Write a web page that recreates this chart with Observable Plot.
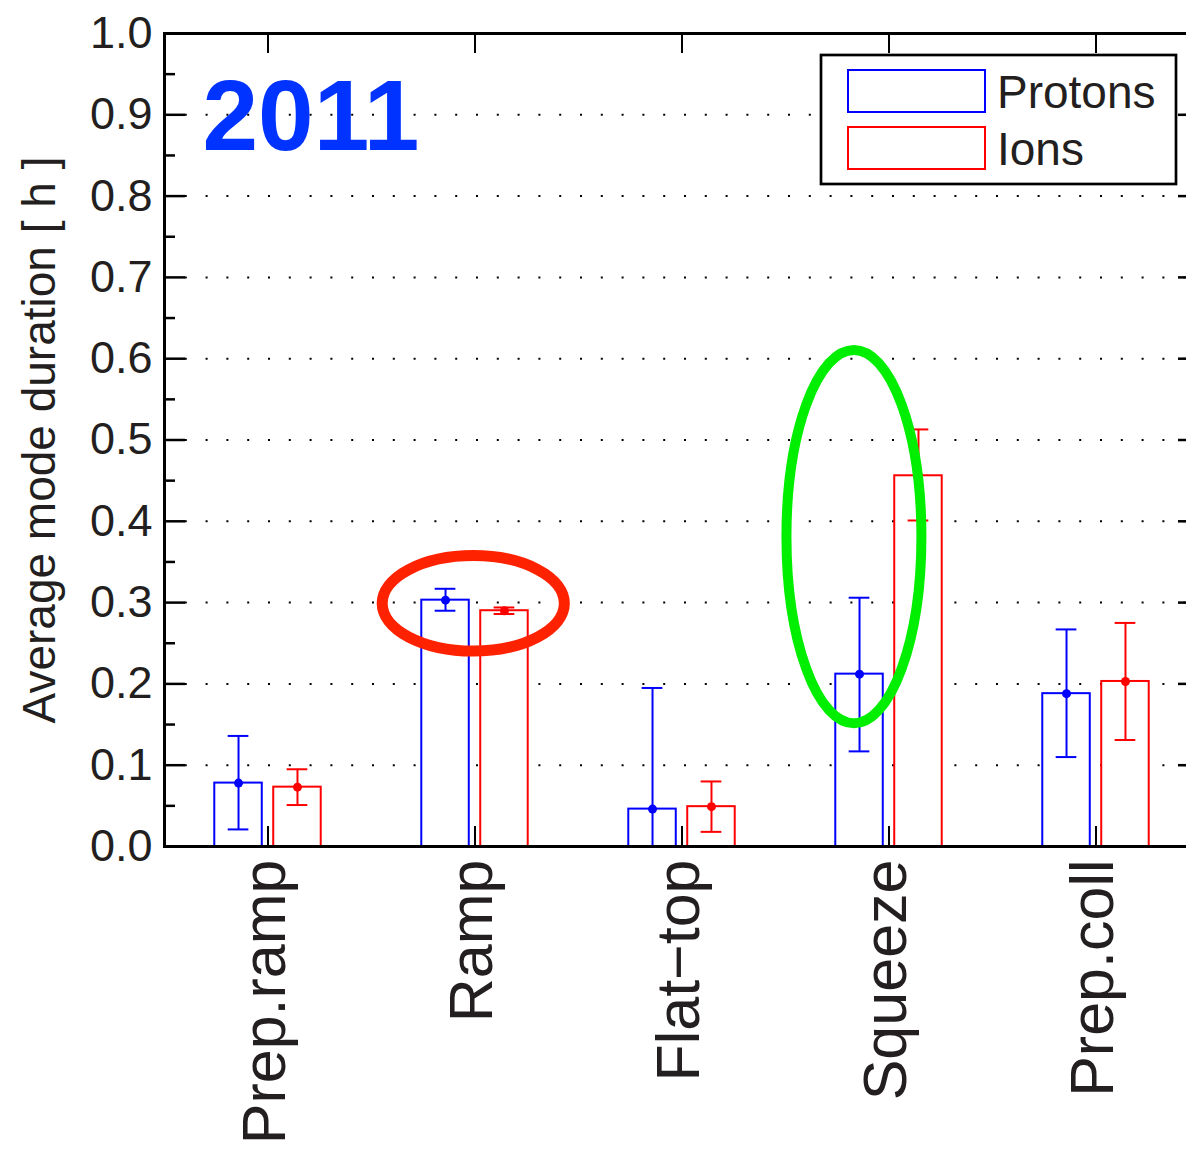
<!DOCTYPE html>
<html><head><meta charset="utf-8">
<script src="https://cdn.jsdelivr.net/npm/d3@7"></script>
<script src="https://cdn.jsdelivr.net/npm/@observablehq/plot@0.6"></script>
<style>
html,body{margin:0;padding:0;overflow:hidden;background:#fff;}
#chart{position:relative;width:1199px;height:1153px;overflow:hidden;}
</style></head><body><div id="chart"></div>
<script>
// ---- data ----
const categories = ["Prep.ramp", "Ramp", "Flat\u2212top", "Squeeze", "Prep.coll"];
const seriesNames = ["Protons", "Ions"];
const protonMean = [0.078, 0.303, 0.046, 0.212, 0.188];
const protonLow  = [0.021, 0.290, -0.103, 0.117, 0.110];
const protonHigh = [0.136, 0.317, 0.195, 0.306, 0.267];
const ionMean = [0.073, 0.290, 0.049, 0.456, 0.203];
const ionLow  = [0.051, 0.286, 0.018, 0.401, 0.131];
const ionHigh = [0.095, 0.294, 0.080, 0.513, 0.275];
const yTicks = [0, 0.1, 0.2, 0.3, 0.4, 0.5, 0.6, 0.7, 0.8, 0.9, 1.0];
const yMinorTicks = [0.05, 0.15, 0.25, 0.35, 0.45, 0.55, 0.65, 0.75, 0.85, 0.95];
const titleText = ["2011"];
const yLabel = ["Average mode duration [ h ]"];
// highlight ellipses (data units: x = category position, y = hours)
const ellipseCx = [1.994, 3.833];
const ellipseCy = [0.2985, 0.3805];
const ellipseRx = [0.44, 0.326];
const ellipseRy = [0.0588, 0.2296];

// ---- layout constants ----
const colors = ["#0000ff", "#ff0000"];
const ellipseColors = ["#ff2200", "#00ee00"];
const ellipseWidths = [11, 10];
const offset = {Protons: -0.1424, Ions: 0.1424};
const halfW = 0.1147, capHalf = 0.05;
const font = "'Liberation Sans', Arial, Helvetica, sans-serif";
const textColor = "#231f20";

const rows = [];
categories.forEach((c, i) => {
  rows.push({cat: c, pos: i + 1, series: "Protons", mean: protonMean[i], low: protonLow[i], high: protonHigh[i]});
  rows.push({cat: c, pos: i + 1, series: "Ions", mean: ionMean[i], low: ionLow[i], high: ionHigh[i]});
});
const cx = d => d.pos + offset[d.series];
const positions = categories.map((c, i) => i + 1);

const plot = Plot.plot({
  width: 1199, height: 1153,
  marginLeft: 164, marginRight: 0, marginTop: 33, marginBottom: 307,
  style: {fontFamily: font, maxWidth: "none", background: "white", overflow: "visible"},
  x: {domain: [0.5, 5.5], axis: null},
  y: {domain: [0, 1]},
  color: {domain: seriesNames, range: colors},
  marks: [
    // dotted grid
    Plot.ruleY(yTicks.slice(1, 10), {y: d => d, stroke: "#000", strokeWidth: 2, strokeDasharray: "2,18.8"}),
    // bars
    Plot.rectY(rows, {x1: d => cx(d) - halfW, x2: d => cx(d) + halfW, y1: () => 0, y2: "mean",
      fill: "white", stroke: "series", strokeWidth: 2}),
    // error bars
    Plot.ruleX(rows, {x: cx, y1: "low", y2: "high", stroke: "series", strokeWidth: 2, clip: true}),
    Plot.ruleY(rows, {y: "high", x1: d => cx(d) - capHalf, x2: d => cx(d) + capHalf, stroke: "series", strokeWidth: 2, clip: true}),
    Plot.ruleY(rows, {y: "low", x1: d => cx(d) - capHalf, x2: d => cx(d) + capHalf, stroke: "series", strokeWidth: 2, clip: true}),
    Plot.dot(rows, {x: cx, y: "mean", r: 4.5, fill: "series", stroke: null}),
    // frame
    Plot.frame({stroke: "#000", strokeWidth: 3}),
    // inward y ticks (left and right)
    Plot.ruleY(yTicks, {y: d => d, x1: () => 0.5, x2: () => 0.5, insetRight: -21, stroke: "#000", strokeWidth: 2.5}),
    Plot.ruleY(yMinorTicks, {y: d => d, x1: () => 0.5, x2: () => 0.5, insetRight: -11, stroke: "#000", strokeWidth: 2.5}),
    Plot.ruleY(yTicks, {y: d => d, x1: () => 5.5, x2: () => 5.5, insetLeft: -21, stroke: "#000", strokeWidth: 2.5}),
    Plot.ruleY(yMinorTicks, {y: d => d, x1: () => 5.5, x2: () => 5.5, insetLeft: -11, stroke: "#000", strokeWidth: 2.5}),
    // inward x ticks (bottom and top)
    Plot.ruleX(positions, {x: d => d, y1: () => 0, y2: () => 0, insetTop: -20, stroke: "#000", strokeWidth: 2}),
    Plot.ruleX(positions, {x: d => d, y1: () => 1, y2: () => 1, insetBottom: -20, stroke: "#000", strokeWidth: 2}),
    // y tick labels
    Plot.axisY(yTicks, {tickSize: 0, tickPadding: 12, tickFormat: d3.format(".1f"), fontSize: 45, color: textColor, label: null}),
    // x tick labels (rotated)
    Plot.text(categories, {x: (d, i) => i + 1, y: () => 0, text: d => d, rotate: -90, textAnchor: "end",
      lineAnchor: "middle", fontSize: 61, dx: -3, dy: 13, fill: textColor}),
    // y axis label
    Plot.text(yLabel, {frameAnchor: "left", text: d => d, rotate: -90, textAnchor: "middle", lineAnchor: "middle",
      dx: -124, fontSize: 46, fill: textColor}),
    // year title
    Plot.text(titleText, {frameAnchor: "top-left", text: d => d, textAnchor: "start", lineAnchor: "top",
      dx: 38, dy: 45, fontSize: 100, fontWeight: "bold", fill: "#0033ff"})
  ]
});

document.getElementById("chart").appendChild(plot);

// legend (pixel layout)
const svg = d3.select(plot);
const lg = svg.append("g").attr("text-anchor", "start");
lg.append("rect").attr("x", 821).attr("y", 55).attr("width", 355).attr("height", 129)
  .attr("fill", "white").attr("stroke", "#000").attr("stroke-width", 2.7);
seriesNames.forEach((s, i) => {
  const y0 = 70 + i * 57;
  lg.append("rect").attr("x", 848).attr("y", y0).attr("width", 137).attr("height", 42)
    .attr("fill", "none").attr("stroke", colors[i]).attr("stroke-width", 2);
  lg.append("text").attr("x", 997).attr("y", y0 + 38).attr("font-size", 46)
    .attr("text-anchor", "start")
    .attr("font-family", font).attr("fill", textColor).text(s);
});

// highlight ellipses, placed through the plot's own scales
const xs = plot.scale("x"), ys = plot.scale("y");
const xf = d3.scaleLinear(xs.domain, xs.range), yf = d3.scaleLinear(ys.domain, ys.range);
ellipseCx.forEach((c, i) => {
  svg.append("ellipse")
    .attr("cx", xf(c)).attr("cy", yf(ellipseCy[i]))
    .attr("rx", Math.abs(xf(c + ellipseRx[i]) - xf(c)))
    .attr("ry", Math.abs(yf(ellipseCy[i] + ellipseRy[i]) - yf(ellipseCy[i])))
    .attr("fill", "none").attr("stroke", ellipseColors[i]).attr("stroke-width", ellipseWidths[i]);
});
</script></body></html>
